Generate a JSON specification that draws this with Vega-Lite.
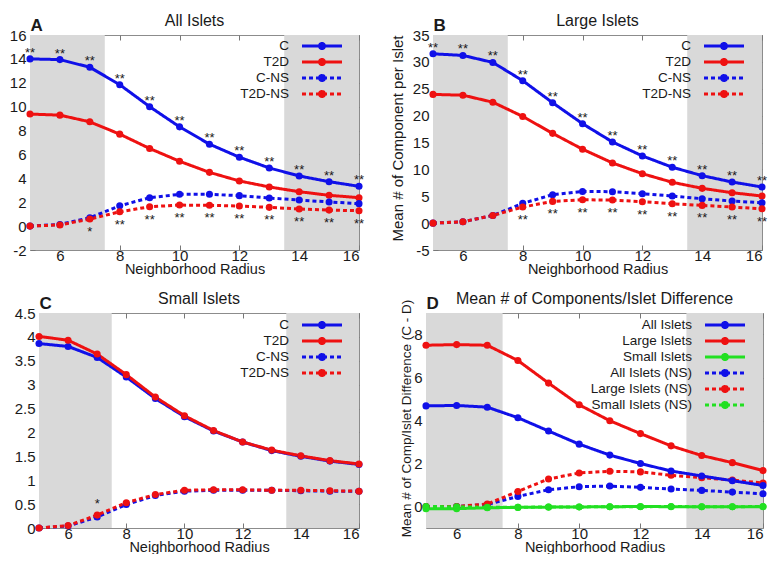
{
  "$schema": "https://vega.github.io/schema/vega-lite/v6.json",
  "background": "white",
  "padding": {"left": -24, "top": 12, "right": 0, "bottom": 0},
  "datasets": {
    "bands": [
      {"start": 5, "end": 7.5},
      {"start": 13.5, "end": 16}
    ],
    "all": [
      {"radius": 5, "series": "C", "value": 14.0, "sig": "**"},
      {"radius": 6, "series": "C", "value": 13.94, "sig": "**"},
      {"radius": 7, "series": "C", "value": 13.3, "sig": "**"},
      {"radius": 8, "series": "C", "value": 11.84, "sig": "**"},
      {"radius": 9, "series": "C", "value": 10.0, "sig": "**"},
      {"radius": 10, "series": "C", "value": 8.31, "sig": "**"},
      {"radius": 11, "series": "C", "value": 6.86, "sig": "**"},
      {"radius": 12, "series": "C", "value": 5.77, "sig": "**"},
      {"radius": 13, "series": "C", "value": 4.87, "sig": "**"},
      {"radius": 14, "series": "C", "value": 4.2, "sig": "**"},
      {"radius": 15, "series": "C", "value": 3.72, "sig": "**"},
      {"radius": 16, "series": "C", "value": 3.33, "sig": "**"},
      {"radius": 5, "series": "T2D", "value": 9.38, "sig": ""},
      {"radius": 6, "series": "T2D", "value": 9.29, "sig": ""},
      {"radius": 7, "series": "T2D", "value": 8.73, "sig": ""},
      {"radius": 8, "series": "T2D", "value": 7.7, "sig": ""},
      {"radius": 9, "series": "T2D", "value": 6.5, "sig": ""},
      {"radius": 10, "series": "T2D", "value": 5.43, "sig": ""},
      {"radius": 11, "series": "T2D", "value": 4.5, "sig": ""},
      {"radius": 12, "series": "T2D", "value": 3.78, "sig": ""},
      {"radius": 13, "series": "T2D", "value": 3.28, "sig": ""},
      {"radius": 14, "series": "T2D", "value": 2.88, "sig": ""},
      {"radius": 15, "series": "T2D", "value": 2.58, "sig": ""},
      {"radius": 16, "series": "T2D", "value": 2.38, "sig": ""},
      {"radius": 5, "series": "C-NS", "value": 0, "sig": ""},
      {"radius": 6, "series": "C-NS", "value": 0.14, "sig": ""},
      {"radius": 7, "series": "C-NS", "value": 0.7, "sig": ""},
      {"radius": 8, "series": "C-NS", "value": 1.7, "sig": ""},
      {"radius": 9, "series": "C-NS", "value": 2.38, "sig": ""},
      {"radius": 10, "series": "C-NS", "value": 2.66, "sig": ""},
      {"radius": 11, "series": "C-NS", "value": 2.66, "sig": ""},
      {"radius": 12, "series": "C-NS", "value": 2.55, "sig": ""},
      {"radius": 13, "series": "C-NS", "value": 2.35, "sig": ""},
      {"radius": 14, "series": "C-NS", "value": 2.18, "sig": ""},
      {"radius": 15, "series": "C-NS", "value": 2.02, "sig": ""},
      {"radius": 16, "series": "C-NS", "value": 1.88, "sig": ""},
      {"radius": 5, "series": "T2D-NS", "value": 0, "sig": ""},
      {"radius": 6, "series": "T2D-NS", "value": 0.1, "sig": ""},
      {"radius": 7, "series": "T2D-NS", "value": 0.59, "sig": "*"},
      {"radius": 8, "series": "T2D-NS", "value": 1.2, "sig": "**"},
      {"radius": 9, "series": "T2D-NS", "value": 1.62, "sig": "**"},
      {"radius": 10, "series": "T2D-NS", "value": 1.76, "sig": "**"},
      {"radius": 11, "series": "T2D-NS", "value": 1.74, "sig": "**"},
      {"radius": 12, "series": "T2D-NS", "value": 1.68, "sig": "**"},
      {"radius": 13, "series": "T2D-NS", "value": 1.57, "sig": "**"},
      {"radius": 14, "series": "T2D-NS", "value": 1.43, "sig": "**"},
      {"radius": 15, "series": "T2D-NS", "value": 1.34, "sig": "**"},
      {"radius": 16, "series": "T2D-NS", "value": 1.29, "sig": "**"}
    ],
    "large": [
      {"radius": 5, "series": "C", "value": 31.5, "sig": "**"},
      {"radius": 6, "series": "C", "value": 31.2, "sig": "**"},
      {"radius": 7, "series": "C", "value": 29.9, "sig": "**"},
      {"radius": 8, "series": "C", "value": 26.5, "sig": "**"},
      {"radius": 9, "series": "C", "value": 22.4, "sig": "**"},
      {"radius": 10, "series": "C", "value": 18.5, "sig": "**"},
      {"radius": 11, "series": "C", "value": 15.1, "sig": "**"},
      {"radius": 12, "series": "C", "value": 12.5, "sig": "**"},
      {"radius": 13, "series": "C", "value": 10.4, "sig": "**"},
      {"radius": 14, "series": "C", "value": 8.83, "sig": "**"},
      {"radius": 15, "series": "C", "value": 7.65, "sig": "**"},
      {"radius": 16, "series": "C", "value": 6.72, "sig": "**"},
      {"radius": 5, "series": "T2D", "value": 23.95, "sig": ""},
      {"radius": 6, "series": "T2D", "value": 23.8, "sig": ""},
      {"radius": 7, "series": "T2D", "value": 22.5, "sig": ""},
      {"radius": 8, "series": "T2D", "value": 19.85, "sig": ""},
      {"radius": 9, "series": "T2D", "value": 16.7, "sig": ""},
      {"radius": 10, "series": "T2D", "value": 13.75, "sig": ""},
      {"radius": 11, "series": "T2D", "value": 11.2, "sig": ""},
      {"radius": 12, "series": "T2D", "value": 9.2, "sig": ""},
      {"radius": 13, "series": "T2D", "value": 7.6, "sig": ""},
      {"radius": 14, "series": "T2D", "value": 6.47, "sig": ""},
      {"radius": 15, "series": "T2D", "value": 5.66, "sig": ""},
      {"radius": 16, "series": "T2D", "value": 5.04, "sig": ""},
      {"radius": 5, "series": "C-NS", "value": 0, "sig": ""},
      {"radius": 6, "series": "C-NS", "value": 0.25, "sig": ""},
      {"radius": 7, "series": "C-NS", "value": 1.43, "sig": ""},
      {"radius": 8, "series": "C-NS", "value": 3.67, "sig": ""},
      {"radius": 9, "series": "C-NS", "value": 5.29, "sig": ""},
      {"radius": 10, "series": "C-NS", "value": 5.9, "sig": ""},
      {"radius": 11, "series": "C-NS", "value": 5.85, "sig": ""},
      {"radius": 12, "series": "C-NS", "value": 5.47, "sig": ""},
      {"radius": 13, "series": "C-NS", "value": 5.04, "sig": ""},
      {"radius": 14, "series": "C-NS", "value": 4.54, "sig": ""},
      {"radius": 15, "series": "C-NS", "value": 4.1, "sig": ""},
      {"radius": 16, "series": "C-NS", "value": 3.8, "sig": ""},
      {"radius": 5, "series": "T2D-NS", "value": 0, "sig": ""},
      {"radius": 6, "series": "T2D-NS", "value": 0.25, "sig": ""},
      {"radius": 7, "series": "T2D-NS", "value": 1.43, "sig": ""},
      {"radius": 8, "series": "T2D-NS", "value": 2.99, "sig": "**"},
      {"radius": 9, "series": "T2D-NS", "value": 4.04, "sig": "**"},
      {"radius": 10, "series": "T2D-NS", "value": 4.35, "sig": "**"},
      {"radius": 11, "series": "T2D-NS", "value": 4.29, "sig": "**"},
      {"radius": 12, "series": "T2D-NS", "value": 3.98, "sig": "**"},
      {"radius": 13, "series": "T2D-NS", "value": 3.6, "sig": "**"},
      {"radius": 14, "series": "T2D-NS", "value": 3.3, "sig": "**"},
      {"radius": 15, "series": "T2D-NS", "value": 2.99, "sig": "**"},
      {"radius": 16, "series": "T2D-NS", "value": 2.67, "sig": "**"}
    ],
    "small": [
      {"radius": 5, "series": "C", "value": 3.86, "sig": ""},
      {"radius": 6, "series": "C", "value": 3.8, "sig": ""},
      {"radius": 7, "series": "C", "value": 3.57, "sig": ""},
      {"radius": 8, "series": "C", "value": 3.16, "sig": ""},
      {"radius": 9, "series": "C", "value": 2.71, "sig": ""},
      {"radius": 10, "series": "C", "value": 2.33, "sig": ""},
      {"radius": 11, "series": "C", "value": 2.03, "sig": ""},
      {"radius": 12, "series": "C", "value": 1.8, "sig": ""},
      {"radius": 13, "series": "C", "value": 1.62, "sig": ""},
      {"radius": 14, "series": "C", "value": 1.5, "sig": ""},
      {"radius": 15, "series": "C", "value": 1.4, "sig": ""},
      {"radius": 16, "series": "C", "value": 1.33, "sig": ""},
      {"radius": 5, "series": "T2D", "value": 4.01, "sig": ""},
      {"radius": 6, "series": "T2D", "value": 3.93, "sig": ""},
      {"radius": 7, "series": "T2D", "value": 3.64, "sig": ""},
      {"radius": 8, "series": "T2D", "value": 3.21, "sig": ""},
      {"radius": 9, "series": "T2D", "value": 2.74, "sig": ""},
      {"radius": 10, "series": "T2D", "value": 2.35, "sig": ""},
      {"radius": 11, "series": "T2D", "value": 2.04, "sig": ""},
      {"radius": 12, "series": "T2D", "value": 1.8, "sig": ""},
      {"radius": 13, "series": "T2D", "value": 1.63, "sig": ""},
      {"radius": 14, "series": "T2D", "value": 1.51, "sig": ""},
      {"radius": 15, "series": "T2D", "value": 1.41, "sig": ""},
      {"radius": 16, "series": "T2D", "value": 1.34, "sig": ""},
      {"radius": 5, "series": "C-NS", "value": 0, "sig": ""},
      {"radius": 6, "series": "C-NS", "value": 0.04, "sig": ""},
      {"radius": 7, "series": "C-NS", "value": 0.23, "sig": ""},
      {"radius": 8, "series": "C-NS", "value": 0.49, "sig": ""},
      {"radius": 9, "series": "C-NS", "value": 0.68, "sig": ""},
      {"radius": 10, "series": "C-NS", "value": 0.77, "sig": ""},
      {"radius": 11, "series": "C-NS", "value": 0.79, "sig": ""},
      {"radius": 12, "series": "C-NS", "value": 0.79, "sig": ""},
      {"radius": 13, "series": "C-NS", "value": 0.79, "sig": ""},
      {"radius": 14, "series": "C-NS", "value": 0.78, "sig": ""},
      {"radius": 15, "series": "C-NS", "value": 0.77, "sig": ""},
      {"radius": 16, "series": "C-NS", "value": 0.77, "sig": ""},
      {"radius": 5, "series": "T2D-NS", "value": 0, "sig": ""},
      {"radius": 6, "series": "T2D-NS", "value": 0.05, "sig": ""},
      {"radius": 7, "series": "T2D-NS", "value": 0.27, "sig": "*"},
      {"radius": 8, "series": "T2D-NS", "value": 0.53, "sig": ""},
      {"radius": 9, "series": "T2D-NS", "value": 0.7, "sig": ""},
      {"radius": 10, "series": "T2D-NS", "value": 0.79, "sig": ""},
      {"radius": 11, "series": "T2D-NS", "value": 0.8, "sig": ""},
      {"radius": 12, "series": "T2D-NS", "value": 0.8, "sig": ""},
      {"radius": 13, "series": "T2D-NS", "value": 0.79, "sig": ""},
      {"radius": 14, "series": "T2D-NS", "value": 0.79, "sig": ""},
      {"radius": 15, "series": "T2D-NS", "value": 0.78, "sig": ""},
      {"radius": 16, "series": "T2D-NS", "value": 0.77, "sig": ""}
    ],
    "diff": [
      {"radius": 5, "series": "All Islets (NS)", "value": 0},
      {"radius": 6, "series": "All Islets (NS)", "value": 0},
      {"radius": 7, "series": "All Islets (NS)", "value": 0.09},
      {"radius": 8, "series": "All Islets (NS)", "value": 0.47},
      {"radius": 9, "series": "All Islets (NS)", "value": 0.78},
      {"radius": 10, "series": "All Islets (NS)", "value": 0.92},
      {"radius": 11, "series": "All Islets (NS)", "value": 0.95},
      {"radius": 12, "series": "All Islets (NS)", "value": 0.89},
      {"radius": 13, "series": "All Islets (NS)", "value": 0.81},
      {"radius": 14, "series": "All Islets (NS)", "value": 0.75},
      {"radius": 15, "series": "All Islets (NS)", "value": 0.67},
      {"radius": 16, "series": "All Islets (NS)", "value": 0.59},
      {"radius": 5, "series": "Large Islets (NS)", "value": 0},
      {"radius": 6, "series": "Large Islets (NS)", "value": 0},
      {"radius": 7, "series": "Large Islets (NS)", "value": 0.12},
      {"radius": 8, "series": "Large Islets (NS)", "value": 0.7},
      {"radius": 9, "series": "Large Islets (NS)", "value": 1.28},
      {"radius": 10, "series": "Large Islets (NS)", "value": 1.56},
      {"radius": 11, "series": "Large Islets (NS)", "value": 1.64},
      {"radius": 12, "series": "Large Islets (NS)", "value": 1.61},
      {"radius": 13, "series": "Large Islets (NS)", "value": 1.45},
      {"radius": 14, "series": "Large Islets (NS)", "value": 1.34},
      {"radius": 15, "series": "Large Islets (NS)", "value": 1.23},
      {"radius": 16, "series": "Large Islets (NS)", "value": 1.09},
      {"radius": 5, "series": "Small Islets (NS)", "value": 0},
      {"radius": 6, "series": "Small Islets (NS)", "value": -0.01},
      {"radius": 7, "series": "Small Islets (NS)", "value": -0.04},
      {"radius": 8, "series": "Small Islets (NS)", "value": -0.04},
      {"radius": 9, "series": "Small Islets (NS)", "value": -0.02},
      {"radius": 10, "series": "Small Islets (NS)", "value": -0.02},
      {"radius": 11, "series": "Small Islets (NS)", "value": -0.01},
      {"radius": 12, "series": "Small Islets (NS)", "value": -0.01},
      {"radius": 13, "series": "Small Islets (NS)", "value": 0},
      {"radius": 14, "series": "Small Islets (NS)", "value": -0.01},
      {"radius": 15, "series": "Small Islets (NS)", "value": -0.01},
      {"radius": 16, "series": "Small Islets (NS)", "value": 0},
      {"radius": 5, "series": "All Islets", "value": 4.68},
      {"radius": 6, "series": "All Islets", "value": 4.7},
      {"radius": 7, "series": "All Islets", "value": 4.62},
      {"radius": 8, "series": "All Islets", "value": 4.13},
      {"radius": 9, "series": "All Islets", "value": 3.51},
      {"radius": 10, "series": "All Islets", "value": 2.9},
      {"radius": 11, "series": "All Islets", "value": 2.39},
      {"radius": 12, "series": "All Islets", "value": 2.0},
      {"radius": 13, "series": "All Islets", "value": 1.65},
      {"radius": 14, "series": "All Islets", "value": 1.42},
      {"radius": 15, "series": "All Islets", "value": 1.2},
      {"radius": 16, "series": "All Islets", "value": 0.98},
      {"radius": 5, "series": "Large Islets", "value": 7.5},
      {"radius": 6, "series": "Large Islets", "value": 7.53},
      {"radius": 7, "series": "Large Islets", "value": 7.5},
      {"radius": 8, "series": "Large Islets", "value": 6.79},
      {"radius": 9, "series": "Large Islets", "value": 5.74},
      {"radius": 10, "series": "Large Islets", "value": 4.73},
      {"radius": 11, "series": "Large Islets", "value": 3.99},
      {"radius": 12, "series": "Large Islets", "value": 3.39},
      {"radius": 13, "series": "Large Islets", "value": 2.82},
      {"radius": 14, "series": "Large Islets", "value": 2.37},
      {"radius": 15, "series": "Large Islets", "value": 2.04},
      {"radius": 16, "series": "Large Islets", "value": 1.67},
      {"radius": 5, "series": "Small Islets", "value": -0.1},
      {"radius": 6, "series": "Small Islets", "value": -0.1},
      {"radius": 7, "series": "Small Islets", "value": -0.06},
      {"radius": 8, "series": "Small Islets", "value": -0.04},
      {"radius": 9, "series": "Small Islets", "value": -0.03},
      {"radius": 10, "series": "Small Islets", "value": -0.02},
      {"radius": 11, "series": "Small Islets", "value": -0.01},
      {"radius": 12, "series": "Small Islets", "value": 0},
      {"radius": 13, "series": "Small Islets", "value": -0.01},
      {"radius": 14, "series": "Small Islets", "value": -0.01},
      {"radius": 15, "series": "Small Islets", "value": -0.01},
      {"radius": 16, "series": "Small Islets", "value": -0.01}
    ]
  },
  "config": {
    "font": "Liberation Sans",
    "view": {"stroke": "#8c8c8c", "strokeWidth": 1},
    "axis": {
      "grid": false,
      "domain": false,
      "labelFont": "Liberation Sans",
      "labelFontSize": 15,
      "labelColor": "#1a1a1a",
      "titleFont": "Liberation Sans",
      "titleFontSize": 14,
      "titleFontWeight": "normal",
      "titleColor": "#1a1a1a",
      "tickColor": "#777777",
      "tickSize": -5,
      "tickWidth": 1
    },
    "axisX": {"labelPadding": 3, "titlePadding": -1, "titleFontSize": 14.5},
    "axisY": {"labelPadding": 9},
    "title": {"fontSize": 16, "fontWeight": "normal", "color": "#1a1a1a", "frame": "group", "anchor": "middle", "offset": -12},
    "legend": {
      "orient": "none",
      "labelFont": "Liberation Sans",
      "labelFontSize": 13.5,
      "labelColor": "#1a1a1a",
      "labelAlign": "right",
      "labelOffset": -40,
      "symbolType": "M-3.64,0H3.64M0.22,0A0.22,0.22,0,1,1,-0.22,0A0.22,0.22,0,1,1,0.22,0M-0.22,0A0.22,0.22,0,1,1,0.22,0A0.22,0.22,0,1,1,-0.22,0M0.45,0A0.45,0.45,0,1,1,-0.45,0A0.45,0.45,0,1,1,0.45,0M0,-0.45A0.45,0.45,0,1,1,0,0.45A0.45,0.45,0,1,1,0,-0.45M-0.45,0A0.45,0.45,0,1,1,0.45,0A0.45,0.45,0,1,1,-0.45,0M0,0.45A0.45,0.45,0,1,1,0,-0.45A0.45,0.45,0,1,1,0,0.45",
      "symbolSize": 121,
      "symbolStrokeWidth": 3,
      "symbolOpacity": 1,
      "rowPadding": -2,
      "padding": 0
    },
    "text": {"font": "Liberation Sans"}
  },
  "resolve": {
    "scale": {"color": "independent", "strokeDash": "independent"},
    "legend": {"color": "independent", "strokeDash": "independent"}
  },
  "columns": 3,
  "align": "none",
  "spacing": {"row": 14, "column": 23},
  "concat": [
    {
      "width": 1,
      "height": 1,
      "view": {"stroke": null},
      "data": {"values": [{"k": 0}]},
      "mark": {"type": "point", "size": 0, "opacity": 0},
      "encoding": {}
    },
    {
      "width": 329,
      "height": 215,
      "title": "All Islets",
      "resolve": {"axis": {"x": "independent", "y": "independent"}},
      "layer": [
        {
          "data": {"name": "bands"},
          "mark": {"type": "rect", "color": "#d9d9d9"},
          "encoding": {
            "x": {"field": "start", "type": "quantitative", "scale": {"domain": [5, 16], "nice": false, "zero": false},
              "axis": {"orient": "top", "values": [6, 8, 10, 12, 14, 16], "labels": false, "title": "A", "titleAnchor": "start", "titleAlign": "left", "titleFontWeight": "bold", "titleFontSize": 17, "titlePadding": 4, "titleBaseline": "alphabetic"}},
            "x2": {"field": "end"}
          }
        },
        {
          "data": {"name": "all"},
          "mark": {"type": "line", "strokeWidth": 3},
          "encoding": {
            "x": {"field": "radius", "type": "quantitative", "axis": {"values": [6, 8, 10, 12, 14, 16], "title": "Neighborhood Radius"}},
            "y": {"field": "value", "type": "quantitative", "scale": {"domain": [-2, 16], "nice": false, "zero": false},
              "axis": {"values": [-2, 0, 2, 4, 6, 8, 10, 12, 14, 16], "title": null, "labelExpr": "datum.value + ''", "minExtent": 29, "maxExtent": 29}},
            "color": {"field": "series", "type": "nominal", "scale": {"domain": ["C", "T2D", "C-NS", "T2D-NS"], "range": ["#1010e8", "#ee1111", "#1010e8", "#ee1111"]}, "legend": {"title": null, "legendX": 285, "legendY": 4}},
            "strokeDash": {"field": "series", "type": "nominal", "scale": {"domain": ["C", "T2D", "C-NS", "T2D-NS"], "range": [[1, 0], [1, 0], [4, 3], [4, 3]]}, "legend": {"title": null, "legendX": 285, "legendY": 4}}
          }
        },
        {
          "data": {"name": "all"},
          "mark": {"type": "circle", "size": 50, "opacity": 1},
          "encoding": {
            "x": {"field": "radius", "type": "quantitative", "axis": null},
            "y": {"field": "value", "type": "quantitative", "axis": {"orient": "right", "values": [-2, 0, 2, 4, 6, 8, 10, 12, 14, 16], "labels": false, "title": null, "minExtent": 0, "maxExtent": 0}},
            "color": {"field": "series", "type": "nominal", "legend": {"title": null, "legendX": 285, "legendY": 4}}
          }
        },
        {
          "data": {"name": "all"},
          "transform": [{"filter": "datum.series == 'C' && datum.sig != ''"}],
          "mark": {"type": "text", "dy": -6, "fontSize": 13, "color": "#1a1a1a"},
          "encoding": {
            "x": {"field": "radius", "type": "quantitative", "axis": null},
            "y": {"field": "value", "type": "quantitative", "axis": null},
            "text": {"field": "sig"}
          }
        },
        {
          "data": {"name": "all"},
          "transform": [{"filter": "datum.series == 'T2D-NS' && datum.sig != ''"}],
          "mark": {"type": "text", "dy": 13, "fontSize": 13, "color": "#1a1a1a"},
          "encoding": {
            "x": {"field": "radius", "type": "quantitative", "axis": null},
            "y": {"field": "value", "type": "quantitative", "axis": null},
            "text": {"field": "sig"}
          }
        }
      ]
    },
    {
      "width": 329,
      "height": 215,
      "title": "Large Islets",
      "resolve": {"axis": {"x": "independent", "y": "independent"}},
      "layer": [
        {
          "data": {"name": "bands"},
          "mark": {"type": "rect", "color": "#d9d9d9"},
          "encoding": {
            "x": {"field": "start", "type": "quantitative", "scale": {"domain": [5, 16], "nice": false, "zero": false},
              "axis": {"orient": "top", "values": [6, 8, 10, 12, 14, 16], "labels": false, "title": "B", "titleAnchor": "start", "titleAlign": "left", "titleFontWeight": "bold", "titleFontSize": 17, "titlePadding": 4, "titleBaseline": "alphabetic"}},
            "x2": {"field": "end"}
          }
        },
        {
          "data": {"name": "large"},
          "mark": {"type": "line", "strokeWidth": 3},
          "encoding": {
            "x": {"field": "radius", "type": "quantitative", "axis": {"values": [6, 8, 10, 12, 14, 16], "title": "Neighborhood Radius"}},
            "y": {"field": "value", "type": "quantitative", "scale": {"domain": [-5, 35], "nice": false, "zero": false},
              "axis": {"values": [-5, 0, 5, 10, 15, 20, 25, 30, 35], "title": "Mean # of Component per Islet", "titleFontSize": 15, "titleY": 103, "labelExpr": "datum.value + ''", "titlePadding": 3, "minExtent": 25, "maxExtent": 25}},
            "color": {"field": "series", "type": "nominal", "scale": {"domain": ["C", "T2D", "C-NS", "T2D-NS"], "range": ["#1010e8", "#ee1111", "#1010e8", "#ee1111"]}, "legend": {"title": null, "legendX": 284, "legendY": 4}},
            "strokeDash": {"field": "series", "type": "nominal", "scale": {"domain": ["C", "T2D", "C-NS", "T2D-NS"], "range": [[1, 0], [1, 0], [4, 3], [4, 3]]}, "legend": {"title": null, "legendX": 284, "legendY": 4}}
          }
        },
        {
          "data": {"name": "large"},
          "mark": {"type": "circle", "size": 50, "opacity": 1},
          "encoding": {
            "x": {"field": "radius", "type": "quantitative", "axis": null},
            "y": {"field": "value", "type": "quantitative", "axis": {"orient": "right", "values": [-5, 0, 5, 10, 15, 20, 25, 30, 35], "labels": false, "title": null, "minExtent": 0, "maxExtent": 0}},
            "color": {"field": "series", "type": "nominal", "legend": {"title": null, "legendX": 284, "legendY": 4}}
          }
        },
        {
          "data": {"name": "large"},
          "transform": [{"filter": "datum.series == 'C' && datum.sig != ''"}],
          "mark": {"type": "text", "dy": -6, "fontSize": 13, "color": "#1a1a1a"},
          "encoding": {
            "x": {"field": "radius", "type": "quantitative", "axis": null},
            "y": {"field": "value", "type": "quantitative", "axis": null},
            "text": {"field": "sig"}
          }
        },
        {
          "data": {"name": "large"},
          "transform": [{"filter": "datum.series == 'T2D-NS' && datum.sig != ''"}],
          "mark": {"type": "text", "dy": 13, "fontSize": 13, "color": "#1a1a1a"},
          "encoding": {
            "x": {"field": "radius", "type": "quantitative", "axis": null},
            "y": {"field": "value", "type": "quantitative", "axis": null},
            "text": {"field": "sig"}
          }
        }
      ]
    },
    {
      "width": 1,
      "height": 1,
      "view": {"stroke": null},
      "data": {"values": [{"k": 0}]},
      "mark": {"type": "point", "size": 0, "opacity": 0},
      "encoding": {}
    },
    {
      "width": 320,
      "height": 215,
      "title": "Small Islets",
      "resolve": {"axis": {"x": "independent", "y": "independent"}},
      "layer": [
        {
          "data": {"name": "bands"},
          "mark": {"type": "rect", "color": "#d9d9d9"},
          "encoding": {
            "x": {"field": "start", "type": "quantitative", "scale": {"domain": [5, 16], "nice": false, "zero": false},
              "axis": {"orient": "top", "values": [6, 8, 10, 12, 14, 16], "labels": false, "title": "C", "titleAnchor": "start", "titleAlign": "left", "titleFontWeight": "bold", "titleFontSize": 17, "titlePadding": 4, "titleBaseline": "alphabetic"}},
            "x2": {"field": "end"}
          }
        },
        {
          "data": {"name": "small"},
          "mark": {"type": "line", "strokeWidth": 3},
          "encoding": {
            "x": {"field": "radius", "type": "quantitative", "axis": {"values": [6, 8, 10, 12, 14, 16], "title": "Neighborhood Radius"}},
            "y": {"field": "value", "type": "quantitative", "scale": {"domain": [0, 4.5], "nice": false, "zero": false},
              "axis": {"values": [0, 0.5, 1, 1.5, 2, 2.5, 3, 3.5, 4, 4.5], "title": null, "labelExpr": "datum.value + ''", "minExtent": 38, "maxExtent": 38}},
            "color": {"field": "series", "type": "nominal", "scale": {"domain": ["C", "T2D", "C-NS", "T2D-NS"], "range": ["#1010e8", "#ee1111", "#1010e8", "#ee1111"]}, "legend": {"title": null, "legendX": 276, "legendY": 5}},
            "strokeDash": {"field": "series", "type": "nominal", "scale": {"domain": ["C", "T2D", "C-NS", "T2D-NS"], "range": [[1, 0], [1, 0], [4, 3], [4, 3]]}, "legend": {"title": null, "legendX": 276, "legendY": 5}}
          }
        },
        {
          "data": {"name": "small"},
          "mark": {"type": "circle", "size": 50, "opacity": 1},
          "encoding": {
            "x": {"field": "radius", "type": "quantitative", "axis": null},
            "y": {"field": "value", "type": "quantitative", "axis": {"orient": "right", "values": [0, 0.5, 1, 1.5, 2, 2.5, 3, 3.5, 4, 4.5], "labels": false, "title": null, "minExtent": 0, "maxExtent": 0}},
            "color": {"field": "series", "type": "nominal", "legend": {"title": null, "legendX": 276, "legendY": 5}}
          }
        },
        {
          "data": {"name": "small"},
          "transform": [{"filter": "datum.series == 'T2D-NS' && datum.sig != ''"}],
          "mark": {"type": "text", "dy": -11, "fontSize": 13, "color": "#1a1a1a"},
          "encoding": {
            "x": {"field": "radius", "type": "quantitative", "axis": null},
            "y": {"field": "value", "type": "quantitative", "axis": null},
            "text": {"field": "sig"}
          }
        }
      ]
    },
    {
      "width": 337,
      "height": 215,
      "title": "Mean # of Components/Islet Difference",
      "resolve": {"axis": {"x": "independent", "y": "independent"}},
      "layer": [
        {
          "data": {"name": "bands"},
          "mark": {"type": "rect", "color": "#d9d9d9"},
          "encoding": {
            "x": {"field": "start", "type": "quantitative", "scale": {"domain": [5, 16], "nice": false, "zero": false},
              "axis": {"orient": "top", "values": [6, 8, 10, 12, 14, 16], "labels": false, "title": "D", "titleAnchor": "start", "titleAlign": "left", "titleFontWeight": "bold", "titleFontSize": 17, "titlePadding": 4, "titleBaseline": "alphabetic"}},
            "x2": {"field": "end"}
          }
        },
        {
          "data": {"name": "diff"},
          "mark": {"type": "line", "strokeWidth": 3},
          "encoding": {
            "x": {"field": "radius", "type": "quantitative", "axis": {"values": [6, 8, 10, 12, 14, 16], "title": "Neighborhood Radius"}},
            "y": {"field": "value", "type": "quantitative", "scale": {"domain": [-1, 9], "nice": false, "zero": false},
              "axis": {"values": [0, 2, 4, 6, 8], "title": "Mean # of Comp/Islet Difference (C - D)", "titleFontSize": 13.5, "titleY": 105, "labelExpr": "datum.value + ''", "titlePadding": 1, "minExtent": 12, "maxExtent": 12}},
            "color": {"field": "series", "type": "nominal", "scale": {"domain": ["All Islets", "Large Islets", "Small Islets", "All Islets (NS)", "Large Islets (NS)", "Small Islets (NS)"], "range": ["#1010e8", "#ee1111", "#22e022", "#1010e8", "#ee1111", "#22e022"]}, "legend": {"title": null, "legendX": 292, "legendY": 5}},
            "strokeDash": {"field": "series", "type": "nominal", "scale": {"domain": ["All Islets", "Large Islets", "Small Islets", "All Islets (NS)", "Large Islets (NS)", "Small Islets (NS)"], "range": [[1, 0], [1, 0], [1, 0], [4, 3], [4, 3], [4, 3]]}, "legend": {"title": null, "legendX": 292, "legendY": 5}}
          }
        },
        {
          "data": {"name": "diff"},
          "mark": {"type": "circle", "size": 50, "opacity": 1},
          "encoding": {
            "x": {"field": "radius", "type": "quantitative", "axis": null},
            "y": {"field": "value", "type": "quantitative", "axis": {"orient": "right", "values": [0, 2, 4, 6, 8], "labels": false, "title": null, "minExtent": 0, "maxExtent": 0}},
            "color": {"field": "series", "type": "nominal", "legend": {"title": null, "legendX": 292, "legendY": 5}}
          }
        }
      ]
    }
  ]
}
